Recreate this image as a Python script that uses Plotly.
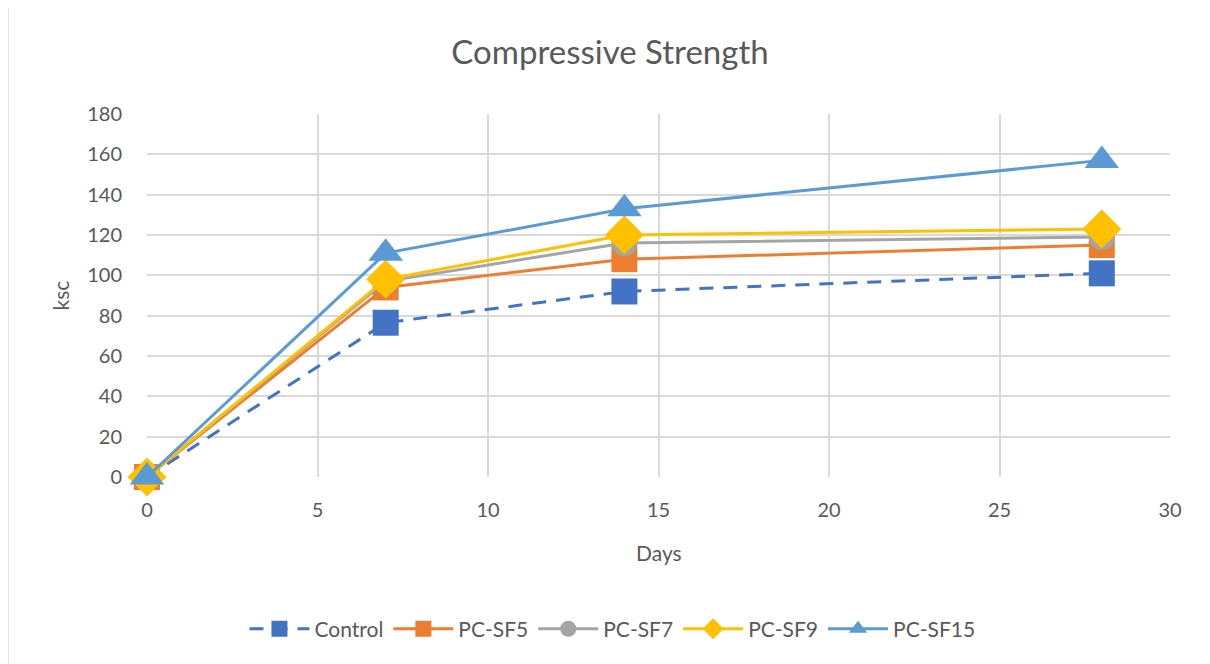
import plotly.graph_objects as go

days = [0, 7, 14, 28]
control = [0, 76.5, 92, 101]
pc_sf5 = [0, 94, 108, 115]
pc_sf7 = [0, 97, 116, 119]
pc_sf9 = [0, 98, 120, 123]
pc_sf15 = [0, 111, 133, 157]

series = [
    ("Control", control, "#4472C4", "square", 26, "14px,10px"),
    ("PC-SF5", pc_sf5, "#ED7D31", "square", 26, "solid"),
    ("PC-SF7", pc_sf7, "#A5A5A5", "circle", 26, "solid"),
    ("PC-SF9", pc_sf9, "#FFC000", "diamond", 30, "solid"),
    ("PC-SF15", pc_sf15, "#5B9BD5", "triangle-up", 30, "solid"),
]

fig = go.Figure()
for name, vals, color, sym, size, dash in series:
    fig.add_trace(go.Scatter(
        x=days, y=vals, name=name, mode="lines+markers", cliponaxis=False,
        line=dict(color=color, width=3, dash=dash),
        marker=dict(symbol=sym, size=size, color=color, line=dict(width=0)),
    ))

font_color = "#595959"
OFF = 8  # page body offset
fig.update_layout(
    width=1202, height=656,
    margin=dict(l=147 - OFF, r=40, t=114 - OFF, b=187),
    paper_bgcolor="white", plot_bgcolor="white",
    font=dict(family="Lato, 'Open Sans', sans-serif", color=font_color, size=19),
    title=dict(text="Compressive Strength", x=(610 - OFF) / 1202, xanchor="center",
               y=1 - (52 - OFF) / 656, yanchor="middle", yref="container",
               font=dict(size=33, color=font_color)),
    showlegend=True,
    legend=dict(orientation="h", x=0.455, xanchor="center", y=-0.419, yanchor="middle",
                font=dict(size=21, color=font_color), itemwidth=60),
    xaxis=dict(range=[0, 30], dtick=5, tick0=0, showgrid=True, gridcolor="#D9D9D9",
               gridwidth=1.5, zeroline=False, showline=False,
               ticks="outside", ticklen=15, tickcolor="rgba(0,0,0,0)",
               tickfont=dict(size=20, color=font_color)),
    yaxis=dict(range=[0, 180], dtick=20, tick0=0, showgrid=True, gridcolor="#D9D9D9",
               gridwidth=1.5, zeroline=False, showline=False,
               ticks="outside", ticklen=20, tickcolor="rgba(0,0,0,0)",
               tickfont=dict(size=20, color=font_color)),
    annotations=[
        dict(text="Days", xref="paper", yref="paper", x=0.5, y=(477 - 552) / 363,
             xanchor="center", yanchor="middle", showarrow=False,
             font=dict(size=21, color=font_color)),
        dict(text="ksc", xref="paper", yref="paper", x=(60 - 147) / 1023, y=0.5,
             xanchor="center", yanchor="middle", showarrow=False, textangle=-90,
             font=dict(size=21, color=font_color)),
    ],
    shapes=[
        dict(type="line", xref="paper", yref="paper",
             x0=(8 - 147) / 1023, x1=(1212 - 147) / 1023,
             y0=(477 - 7) / 363, y1=(477 - 7) / 363,
             line=dict(color="#D9D9D9", width=1.5)),
        dict(type="line", xref="paper", yref="paper",
             x0=(8 - 147) / 1023, x1=(8 - 147) / 1023,
             y0=(477 - 7) / 363, y1=(477 - 666) / 363,
             line=dict(color="#D9D9D9", width=1.5)),
    ],
)

fig.write_html("out.html")
